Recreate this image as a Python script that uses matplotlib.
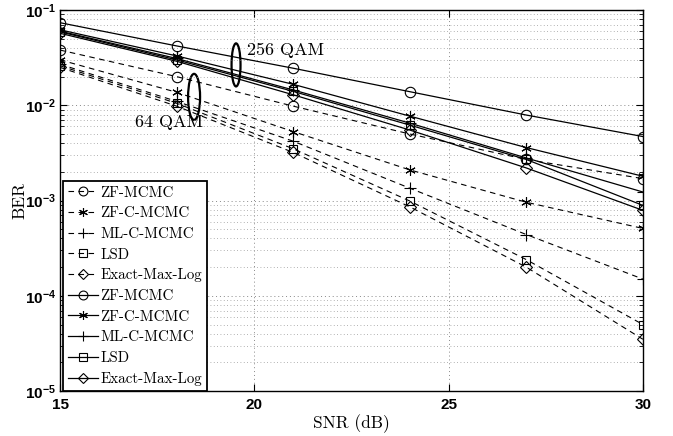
import math
import matplotlib
matplotlib.use("Agg")
import matplotlib.pyplot as plt
from matplotlib.patches import Ellipse
from matplotlib.ticker import LogLocator, NullFormatter, FuncFormatter

snr = [15, 18, 21, 24, 27, 30]

labels = ["ZF-MCMC", "ZF-C-MCMC", "ML-C-MCMC", "LSD", "Exact-Max-Log"]

# 64 QAM (dashed)
ber64 = {
    "ZF-MCMC":       [0.038, 0.020, 0.0098, 0.0050, 0.0027, 0.0017],
    "ZF-C-MCMC":     [0.030, 0.0137, 0.0053, 0.0021, 0.00096, 0.00051],
    "ML-C-MCMC":     [0.027, 0.011, 0.0042, 0.00135, 0.00044, 0.00015],
    "LSD":           [0.026, 0.0105, 0.0035, 0.00099, 0.00024, 0.000050],
    "Exact-Max-Log": [0.025, 0.0098, 0.0032, 0.00086, 0.00020, 0.000035],
}
# 256 QAM (solid)
ber256 = {
    "ZF-MCMC":       [0.0736, 0.042, 0.0245, 0.0139, 0.0079, 0.0047],
    "ZF-C-MCMC":     [0.062, 0.033, 0.0166, 0.0077, 0.0036, 0.0018],
    "ML-C-MCMC":     [0.060, 0.031, 0.0145, 0.0065, 0.0028, 0.00123],
    "LSD":           [0.059, 0.030, 0.014, 0.0062, 0.0027, 0.00089],
    "Exact-Max-Log": [0.057, 0.029, 0.0129, 0.0055, 0.0022, 0.00079],
}

plt.rcParams['mathtext.fontset'] = 'custom'
plt.rcParams['mathtext.rm'] = 'Liberation Sans'
plt.rcParams['mathtext.bf'] = 'Liberation Sans:bold'
serif = 'cmr10'
sans = 'Liberation Sans'

asterisk = (6, 2, 0)
markers = ["o", asterisk, "+", "s", "D"]
msizes = [7.5, 7.5, 8, 6, 6.5]

fig = plt.figure(figsize=(6.73, 4.36), dpi=100)
ax = fig.add_axes([0.0892, 0.103, 0.866, 0.874])

handles = []
for lab, m, ms in zip(labels, markers, msizes):
    h, = ax.semilogy(snr, ber64[lab], linestyle=(0, (5, 4)), color='black', lw=0.8,
                     marker=m, ms=ms, mfc='none', mec='black', mew=0.8, label=lab)
    handles.append(h)
for lab, m, ms in zip(labels, markers, msizes):
    h, = ax.semilogy(snr, ber256[lab], linestyle='-', color='black', lw=0.9,
                     marker=m, ms=ms, mfc='none', mec='black', mew=0.8, label=lab)
    handles.append(h)

ax.set_xlim(15, 30)
ax.set_ylim(1e-5, 1e-1)
ax.set_xticks([15, 20, 25, 30])
ax.xaxis.set_major_formatter(FuncFormatter(lambda v, p: f"{int(v)}"))
ax.yaxis.set_major_locator(LogLocator(base=10, numticks=10))
ax.yaxis.set_minor_locator(LogLocator(base=10, subs=range(2, 10), numticks=50))
ax.yaxis.set_minor_formatter(NullFormatter())
ax.yaxis.set_major_formatter(FuncFormatter(
    lambda v, p: r"$\mathbf{10^{%d}}$" % round(math.log10(v))))

ax.tick_params(axis='both', which='both', direction='in', top=True, right=True,
               labelsize=11)
ax.tick_params(axis='x', which='major', pad=5)
ax.tick_params(axis='y', which='major', pad=3)
ax.tick_params(which='major', length=5)
ax.tick_params(which='minor', length=3)
for lbl in ax.get_xticklabels():
    lbl.set_fontweight('bold')
    lbl.set_family(sans)

ax.grid(True, which='major', linestyle=(0, (1, 3)), color='#888888', lw=0.7)
ax.grid(True, which='minor', axis='y', linestyle=(0, (1, 3)), color='#999999', lw=0.6)
for s in ax.spines.values():
    s.set_linewidth(1.0)

ax.set_xlabel("SNR (dB)", family=serif, fontsize=12.5)
ax.set_ylabel("BER", family=serif, fontsize=12.5)
ax.xaxis.set_label_coords(0.5, -0.062)
ax.yaxis.set_label_coords(-0.056, 0.5)

leg = ax.legend(handles=handles, loc='lower left', bbox_to_anchor=(0.005, 0.0),
                prop={'family': serif, 'size': 10.8},
                frameon=True, fancybox=False, edgecolor='black', framealpha=1,
                handlelength=2.0, handletextpad=0.15, labelspacing=0.46,
                borderpad=0.35, borderaxespad=0.0, numpoints=1, markerscale=0.85)
leg.get_frame().set_linewidth(1.3)

ax.add_patch(Ellipse((0.302, 0.856), 0.0154, 0.113, transform=ax.transAxes,
                     fill=False, ec='black', lw=1.6))
ax.add_patch(Ellipse((0.230, 0.772), 0.0206, 0.121, transform=ax.transAxes,
                     fill=False, ec='black', lw=1.6))
ax.text(0.321, 0.895, "256 QAM", transform=ax.transAxes, family=serif, fontsize=13,
        va='center', ha='left')
ax.text(0.129, 0.706, "64 QAM", transform=ax.transAxes, family=serif, fontsize=13,
        va='center', ha='left')

fig.savefig("out.png", dpi=100)
